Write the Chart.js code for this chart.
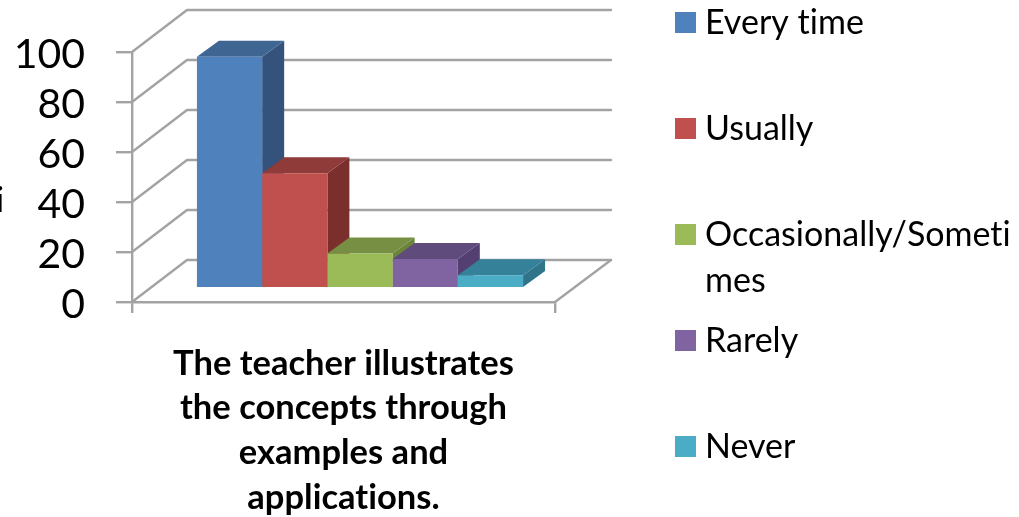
<!DOCTYPE html>
<html><head><meta charset="utf-8">
<script src="https://cdn.jsdelivr.net/npm/chart.js@4/dist/chart.umd.min.js"></script>
<style>html,body{margin:0;padding:0;background:#fff}canvas{display:block;filter:blur(0.5px)}</style>
</head><body><canvas id="c" width="1019" height="517"></canvas>
<script>
const categories = [['The teacher illustrates','the concepts through','examples and','applications.']];
const seriesNames = ['Every time','Usually','Occasionally/Sometimes','Rarely','Never'];
const legendLines = [['Every time'],['Usually'],['Occasionally/Someti','mes'],['Rarely'],['Never']];
const seriesValues = [92.6,46,13.9,11.7,5.2];
const frontColors = ['#4F81BD','#C0504D','#9BBB59','#8064A2','#4BACC6'];
const topColors = ['#3F6592','#8E3B39','#768F43','#5F4B7C','#36819A'];
const sideColors = ['#34527C','#7A2F2D','#6A8438','#533F72','#2F7489'];
const yTicks = [0,20,40,60,80,100];

const plotTop = 52;
const wall = {dx:55, dy:-42};
const barShift = {dx:16.5, dy:-13.7};
const depth = {dx:22, dy:-16};
const gridColor = '#A3A3A3';
const wallRight = 611;

const scene = {
  id:'scene',
  afterLayout(chart){
    const y = chart.scales.y, a = chart.chartArea;
    a.top = plotTop; a.height = a.bottom - plotTop;
    y.top = plotTop; y.height = y.bottom - plotTop;
    y.configure();
  },
  beforeDraw(chart){ chart.ctx.letterSpacing='0.01px'; },
  beforeDatasetsDraw(chart){
    const {ctx, scales:{y}, chartArea:a} = chart;
    ctx.save();
    ctx.lineWidth = 2.4; ctx.lineCap='round'; ctx.lineJoin='round';
    ctx.strokeStyle = gridColor;
    yTicks.forEach(v=>{
      const py = y.getPixelForValue(v);
      ctx.beginPath();
      ctx.moveTo(a.left,py);
      ctx.lineTo(a.left+wall.dx,py+wall.dy);
      ctx.lineTo(wallRight,py+wall.dy);
      ctx.stroke();
    });
    const y0 = y.getPixelForValue(0);
    ctx.beginPath();
    ctx.moveTo(wallRight,y0+wall.dy);
    ctx.lineTo(a.right,y0);
    ctx.stroke();
    // 3D faces of the bars, left to right
    ctx.translate(barShift.dx,barShift.dy);
    chart.getSortedVisibleDatasetMetas().slice().sort((m,n)=>m.index-n.index).forEach(meta=>{
      const el = meta.data[0], i = meta.index;
      const l = el.x-el.width/2, r = el.x+el.width/2, t = el.y, b = el.base;
      ctx.fillStyle = sideColors[i];
      ctx.beginPath();
      ctx.moveTo(r,t);ctx.lineTo(r+depth.dx,t+depth.dy);ctx.lineTo(r+depth.dx,b+depth.dy);ctx.lineTo(r,b);
      ctx.closePath();ctx.fill();
      ctx.fillStyle = topColors[i];
      ctx.beginPath();
      ctx.moveTo(l,t);ctx.lineTo(l+depth.dx,t+depth.dy);ctx.lineTo(r+depth.dx,t+depth.dy);ctx.lineTo(r,t);
      ctx.closePath();ctx.fill();
    });
    ctx.restore();
    ctx.save();
    ctx.translate(barShift.dx,barShift.dy);
  },
  afterDatasetsDraw(chart){ chart.ctx.restore(); },
  afterDraw(chart){
    const {ctx} = chart;
    ctx.save();
    ctx.font = '34px Lato';
    ctx.textAlign='left'; ctx.textBaseline='alphabetic'; ctx.fillStyle='#000';
    let boxTop = 12;
    legendLines.forEach((lines,i)=>{
      ctx.fillStyle = frontColors[i];
      ctx.fillRect(675,boxTop,21,21);
      ctx.fillStyle = '#000';
      lines.forEach((t,k)=>ctx.fillText(t,705,boxTop+22+k*46));
      boxTop += 106;
    });
    ctx.fillText('i',-4,212);
    ctx.restore();
  }
};

new Chart(document.getElementById('c'),{
  type:'bar',
  data:{
    labels:categories,
    datasets:seriesNames.map((n,i)=>({label:n,data:[seriesValues[i]],backgroundColor:frontColors[i],borderWidth:0,categoryPercentage:0.771,barPercentage:1}))
  },
  options:{
    responsive:false,animation:false,
    layout:{autoPadding:false,padding:{left:0,top:52,right:464,bottom:0}},
    plugins:{legend:{display:false},title:{display:false},tooltip:{enabled:false}},
    scales:{
      x:{
        offset:true,
        afterFit:s=>{s.height=215;},
        border:{color:gridColor,width:2.4},
        grid:{drawOnChartArea:false,color:gridColor,lineWidth:2.4,tickLength:11},
        ticks:{color:'#000',maxRotation:0,autoSkip:false,padding:28,font:{family:'Lato',size:34.5,weight:'bold',lineHeight:1.3}}
      },
      y:{
        min:0,max:100,
        afterFit:s=>{s.width=132;},
        afterBuildTicks:s=>{s.ticks=yTicks.map(v=>({value:v}));},
        border:{color:gridColor,width:2.4},
        grid:{drawOnChartArea:false,color:gridColor,lineWidth:2.4,tickLength:16},
        ticks:{color:'#000',padding:31,autoSkip:false,labelOffset:2.5,font:{family:'Lato',size:41}}
      }
    }
  },
  plugins:[scene]
});
</script></body></html>
